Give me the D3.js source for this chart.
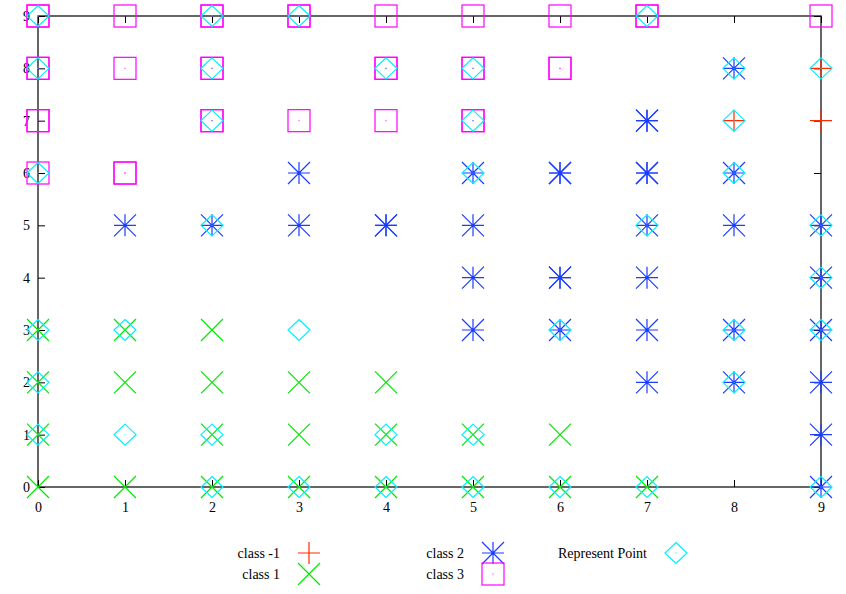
<!DOCTYPE html>
<html>
<head>
<meta charset="utf-8">
<script src="https://cdn.jsdelivr.net/npm/d3@7"></script>
<style>
body{margin:0;background:#fff;}
svg{display:block;font-family:"Liberation Serif","Times New Roman",serif;}
</style>
</head>
<body>
<svg id="chart" width="846" height="594"></svg>
<script>
// ---- data ----
const xTicks = [0,1,2,3,4,5,6,7,8,9];
const yTicks = [0,1,2,3,4,5,6,7,8,9];

const classNeg1 = [[8,7],[9,8],[9,7]];
const class1 = [
  [0,0],[1,0],[2,0],[3,0],[4,0],[5,0],[6,0],[7,0],
  [0,1],[2,1],[3,1],[4,1],[5,1],[6,1],
  [0,2],[1,2],[2,2],[3,2],[4,2],
  [0,3],[1,3],[2,3]
];
const class2 = [
  [9,0],[9,1],
  [7,2],[8,2],[9,2],
  [5,3],[6,3],[7,3],[8,3],[9,3],
  [5,4],[6,4],[6,4],[7,4],[9,4],
  [1,5],[2,5],[3,5],[4,5],[4,5],[5,5],[7,5],[8,5],[9,5],
  [3,6],[5,6],[6,6],[6,6],[7,6],[7,6],[8,6],
  [7,7],[7,7],
  [8,8]
];
const class3 = [
  [0,6],[1,6],[1,6],
  [0,7],[0,7],[2,7],[2,7],[3,7],[4,7],[5,7],[5,7],
  [0,8],[0,8],[1,8],[2,8],[2,8],[4,8],[4,8],[5,8],[5,8],[6,8],[6,8],
  [0,9],[0,9],[1,9],[2,9],[2,9],[3,9],[3,9],[4,9],[5,9],[6,9],[7,9],[7,9],[9,9]
];
const representPoints = [
  [0,1],[0,2],[0,3],[1,1],[1,3],[2,0],[2,1],[3,0],[3,3],[4,0],[4,1],[5,0],[5,1],[6,0],[7,0],
  [9,0],[8,2],[6,3],[8,3],[9,3],[9,4],[2,5],[7,5],[9,5],[5,6],[8,6],[8,8],
  [0,6],[2,7],[5,7],[0,8],[2,8],[4,8],[5,8],[0,9],[2,9],[3,9],[7,9],
  [8,7],[9,8]
];
const legendLabels = ["class -1","class 1","class 2","class 3","Represent Point"];

// ---- layout ----
const svg = d3.select("#chart");
const x = d3.scaleLinear().domain([0,9]).range([38,821]);
const y = d3.scaleLinear().domain([0,9]).range([487,16]);

const colors = {neg1:"#ff2a00", c1:"#00e800", c2:"#1a3dff", c3:"#ff00ff", rep:"#00f0ff"};
const S = 11;
const FS = 14;

const shapes = {
  plus: (g,c)=>{ g.append("path").attr("d",`M${-S},0H${S}M0,${-S}V${S}`).attr("stroke",c); },
  cross: (g,c)=>{ g.append("path").attr("d",`M${-S},${-S}L${S},${S}M${-S},${S}L${S},${-S}`).attr("stroke",c); },
  star: (g,c)=>{ g.append("path").attr("d",`M${-S},0H${S}M0,${-S}V${S}M${-S},${-S}L${S},${S}M${-S},${S}L${S},${-S}`).attr("stroke",c);
                 g.append("circle").attr("r",1.3).attr("fill",c).attr("stroke","none"); },
  square: (g,c)=>{ g.append("rect").attr("x",-S).attr("y",-S).attr("width",2*S).attr("height",2*S).attr("fill","none").attr("stroke",c);
                   g.append("rect").attr("x",-0.5).attr("y",-0.5).attr("width",1).attr("height",1).attr("fill",c).attr("stroke","none"); },
  diamond: (g,c)=>{ g.append("path").attr("d",`M0,${-10.5}L${S},0L0,${10.5}L${-S},0Z`).attr("fill","none").attr("stroke",c);
                    g.append("rect").attr("x",-0.5).attr("y",-0.5).attr("width",1).attr("height",1).attr("fill",c).attr("stroke","none"); }
};

// axes (ticks inward, mirrored)
const fmt = d3.format("d");
const axB = svg.append("g").attr("transform",`translate(0,${y(0)})`)
  .call(d3.axisBottom(x).tickValues(xTicks).tickFormat(fmt).tickSize(-7).tickPadding(15));
const axL = svg.append("g").attr("transform",`translate(${x(0)},0)`)
  .call(d3.axisLeft(y).tickValues(yTicks).tickFormat(fmt).tickSize(-7).tickPadding(8));
const axT = svg.append("g").attr("transform",`translate(0,${y(9)})`)
  .call(d3.axisTop(x).tickValues(xTicks).tickFormat("").tickSize(-7));
const axR = svg.append("g").attr("transform",`translate(${x(9)},0)`)
  .call(d3.axisRight(y).tickValues(yTicks).tickFormat("").tickSize(-7));
[axB,axL,axT,axR].forEach(a=>{
  a.select(".domain").remove();
  a.selectAll("line").attr("stroke","#000");
  a.selectAll("text").attr("font-family","Liberation Serif, serif").attr("font-size",FS).attr("fill","#000");
});
svg.append("rect").attr("x",x(0)).attr("y",y(9)).attr("width",x(9)-x(0)).attr("height",y(0)-y(9))
  .attr("fill","none").attr("stroke","#000").attr("stroke-width",1.2);

// points
function drawSeries(data, shape, color){
  const g = svg.append("g").attr("fill","none").attr("stroke-width",1.2);
  data.forEach(d=>{
    const m = g.append("g").attr("transform",`translate(${x(d[0])},${y(d[1])})`);
    shapes[shape](m,color);
  });
}
drawSeries(classNeg1,"plus",colors.neg1);
drawSeries(class1,"cross",colors.c1);
drawSeries(class2,"star",colors.c2);
drawSeries(class3,"square",colors.c3);
drawSeries(representPoints,"diamond",colors.rep);

// legend
const legendItems = [
  {label:legendLabels[0], shape:"plus", color:colors.neg1, tx:280, mx:309, yy:553},
  {label:legendLabels[1], shape:"cross", color:colors.c1, tx:280, mx:309, yy:574},
  {label:legendLabels[2], shape:"star", color:colors.c2, tx:464, mx:493, yy:553},
  {label:legendLabels[3], shape:"square", color:colors.c3, tx:464, mx:493, yy:574},
  {label:legendLabels[4], shape:"diamond", color:colors.rep, tx:647, mx:676, yy:553}
];
const lg = svg.append("g");
legendItems.forEach(it=>{
  lg.append("text").attr("x",it.tx).attr("y",it.yy).attr("dy","0.33em").attr("text-anchor","end")
    .attr("font-size",FS).attr("fill","#000").text(it.label);
  const m = lg.append("g").attr("transform",`translate(${it.mx},${it.yy})`).attr("fill","none").attr("stroke-width",1.2);
  shapes[it.shape](m,it.color);
});
</script>
</body>
</html>
